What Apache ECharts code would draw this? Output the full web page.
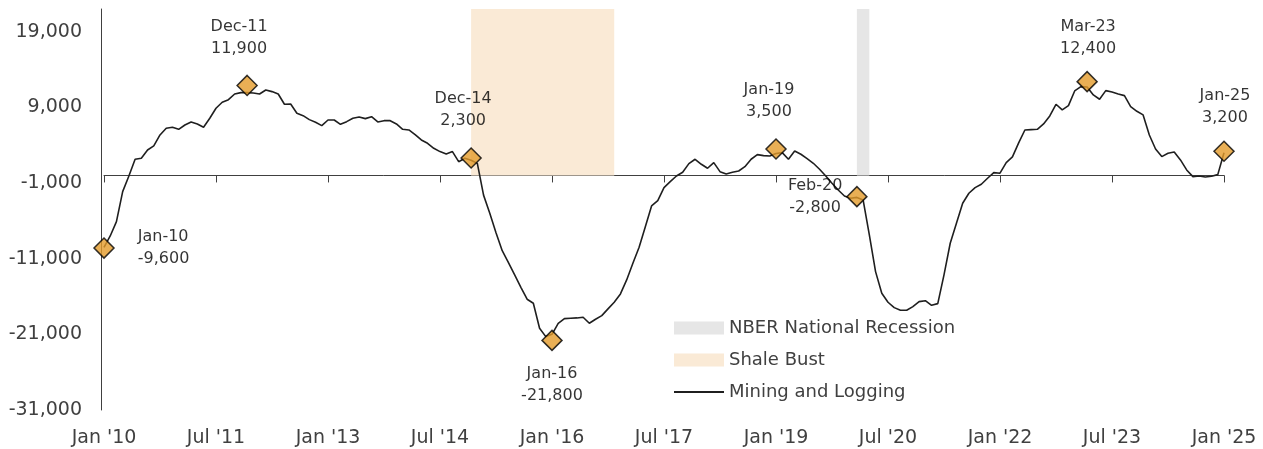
<!DOCTYPE html>
<html>
<head>
<meta charset="utf-8">
<script src="https://cdn.jsdelivr.net/npm/echarts@6/dist/echarts.min.js"></script>
<style>
html,body{margin:0;padding:0;background:#fff;}
#chart{width:1263px;height:449px;}
</style>
</head>
<body>
<div id="chart"></div>
<script>
// Month categories Jan-10 .. Jan-25
const monthNames = ['Jan','Feb','Mar','Apr','May','Jun','Jul','Aug','Sep','Oct','Nov','Dec'];
const categories = [];
for (let y = 2010; y <= 2025; y++) {
  for (let m = 0; m < 12; m++) {
    if (y === 2025 && m > 0) break;
    categories.push(monthNames[m] + '-' + String(y).slice(2));
  }
}

// Mining and Logging (year-over-year change, jobs)
const miningValues = [
  -9500, -8000, -6100, -2140, -70, 2140, 2270, 3370, 3900, 5350, 6240, 6370,
  6100, 6670, 7070, 6800, 6370, 7560, 8880, 9670, 10020, 10770, 10950, 10950,
  10900, 10770, 11300, 11080, 10770, 9410, 9450, 8220, 7900, 7380, 7030, 6590,
  7330, 7330, 6760, 7110, 7560, 7730, 7510, 7770, 7070, 7240, 7240, 6810,
  6100, 6010, 5400, 4690, 4250, 3590, 3150, 2840, 3150, 1820, 2270, 2000,
  1600, -2600, -5000, -7560, -9940, -11520, -13150, -14780, -16360, -16890, -20200, -21300,
  -21000, -19540, -18920, -18870, -18830, -18740, -19540, -19000, -18530, -17640, -16760, -15660,
  -13810, -11610, -9490, -6770, -4030, -3330, -1610, -820, -70, 420, 1560, 2140,
  1480, 950, 1690, 500, 200, 420, 590, 1160, 2140, 2750, 2620, 2580,
  2900, 3020, 2140, 3240, 2800, 2220, 1610, 820, -70, -1030, -1920, -2710,
  -3010, -2900, -3240, -7860, -12710, -15570, -16760, -17470, -17820, -17820, -17340, -16680,
  -16550, -17160, -16940, -13150, -8960, -6320, -3670, -2350, -1610, -1160, -370, 370,
  300, 1700, 2450, 4300, 6010, 6060, 6100, 6810, 7860, 9410, 8660, 9230,
  11170, 11740, 11700, 10640, 10070, 11210, 11040, 10770, 10550, 9100, 8480, 8000,
  5350, 3500, 2490, 2930, 3110, 2050, 730, -160, -70, -200, -110, 110,
  3000
];

// Highlighted points
const markerMonths = ['Jan-10', 'Dec-11', 'Dec-14', 'Jan-16', 'Jan-19', 'Feb-20', 'Mar-23', 'Jan-25'];
const markerValues = [-9600, 11900, 2300, -21800, 3500, -2800, 12400, 3200];

// Shaded periods
const nberPeriod = ['Feb-20', 'Apr-20'];
const shalePeriod = ['Dec-14', 'Nov-16'];

// Tick labels
const xTickLabels = ["Jan '10", "Jul '11", "Jan '13", "Jul '14", "Jan '16", "Jul '17", "Jan '19", "Jul '20", "Jan '22", "Jul '23", "Jan '25"];
const yTickValues = [-31000, -21000, -11000, -1000, 9000, 19000];

// label placement per marker (style only)
const labelPlacement = {
  'Jan-10': {position: 'right', distance: 23, offset: [0, 0]},
  'Dec-11': {position: 'top', distance: 15, offset: [-8, 0]},
  'Dec-14': {position: 'top', distance: 15, offset: [-8, 0]},
  'Jan-16': {position: 'bottom', distance: 12, offset: [0, 0]},
  'Jan-19': {position: 'top', distance: 15, offset: [-7, 0]},
  'Feb-20': {position: 'left', distance: 31, offset: [0, 0]},
  'Mar-23': {position: 'top', distance: 11, offset: [1, 0]},
  'Jan-25': {position: 'top', distance: 12, offset: [1, 0]}
};

const FONT = 'DejaVu Sans';
const fmt = v => Number(v).toLocaleString('en-US');

const markerData = markerMonths.map((m, i) => {
  const p = labelPlacement[m];
  return {
    value: [m, markerValues[i]],
    label: {
      show: true,
      position: p.position,
      distance: p.distance,
      offset: p.offset,
      align: p.position === 'left' ? 'center' : undefined
    }
  };
});

const chart = echarts.init(document.getElementById('chart'), null, {renderer: 'canvas'});
chart.setOption({
  animation: false,
  backgroundColor: '#fff',
  grid: {left: 104, right: 39, top: 9, bottom: 39, containLabel: false},
  legend: {
    orient: 'vertical',
    left: 668,
    top: 314,
    itemWidth: 50,
    itemHeight: 13,
    itemGap: 14,
    selectedMode: false,
    textStyle: {fontFamily: FONT, fontSize: 18, color: '#404040', lineHeight: 18},
    data: [
      {name: 'NBER National Recession', icon: 'rect'},
      {name: 'Shale Bust', icon: 'rect'},
      {name: 'Mining and Logging', itemStyle: {opacity: 0}}
    ]
  },
  xAxis: [
    {
      type: 'category',
      data: categories,
      boundaryGap: false,
      position: 'bottom',
      axisLine: {show: false, onZero: false},
      axisTick: {show: false},
      splitLine: {show: false},
      axisLabel: {
        interval: 17,
        margin: 19,
        color: '#404040',
        fontFamily: FONT,
        fontSize: 19,
        formatter: (v, i) => (i % 18 === 0 ? xTickLabels[i / 18] : '')
      }
    },
    {
      type: 'category',
      data: categories,
      boundaryGap: false,
      position: 'top',
      axisLine: {show: true, onZero: true, lineStyle: {color: '#404040', width: 1}},
      axisTick: {show: true, interval: 17, inside: true, length: 7, lineStyle: {color: '#404040', width: 1}},
      axisLabel: {show: false},
      splitLine: {show: false}
    }
  ],
  yAxis: {
    type: 'value',
    min: -31000,
    max: 22000,
    offset: 3,
    splitLine: {show: false},
    axisLine: {show: true, onZero: false, lineStyle: {color: '#404040', width: 1}},
    axisTick: {show: false},
    axisLabel: {
      customValues: yTickValues,
      margin: 19,
      color: '#404040',
      fontFamily: FONT,
      fontSize: 19,
      formatter: v => fmt(v)
    }
  },
  series: [
    {
      name: 'NBER National Recession',
      type: 'line',
      data: [],
      itemStyle: {color: '#E6E6E6'},
      lineStyle: {color: '#E6E6E6'},
      markArea: {
        silent: true,
        itemStyle: {color: '#E6E6E6'},
        data: [[{xAxis: nberPeriod[0], yAxis: 0}, {xAxis: nberPeriod[1], yAxis: 22000}]]
      }
    },
    {
      name: 'Shale Bust',
      type: 'line',
      data: [],
      itemStyle: {color: '#FAEAD6'},
      lineStyle: {color: '#FAEAD6'},
      markArea: {
        silent: true,
        itemStyle: {color: '#FAEAD6'},
        data: [[{xAxis: shalePeriod[0], yAxis: 0}, {xAxis: shalePeriod[1], yAxis: 22000}]]
      }
    },
    {
      name: 'Mining and Logging',
      type: 'line',
      data: miningValues,
      symbol: 'none',
      itemStyle: {color: '#1f1f1f'},
      lineStyle: {color: '#1f1f1f', width: 1.6},
      z: 3
    },
    {
      name: 'markers',
      type: 'scatter',
      data: markerData,
      symbol: 'diamond',
      symbolSize: 20,
      z: 5,
      itemStyle: {color: '#E39B2B', borderColor: '#000', borderWidth: 1.5},
      label: {
        show: true,
        fontFamily: FONT,
        fontSize: 16,
        lineHeight: 22,
        color: '#000',
        formatter: p => p.value[0] + '\n' + fmt(p.value[1])
      }
    }
  ]
});
</script>
</body>
</html>
